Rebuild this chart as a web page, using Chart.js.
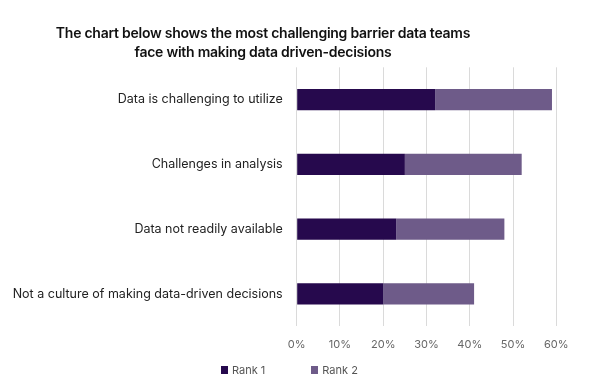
<!DOCTYPE html>
<html>
<head>
<meta charset="utf-8">
<script src="https://cdn.jsdelivr.net/npm/chart.js@4"></script>
<style>
  html, body { margin: 0; padding: 0; background: #ffffff; }
  #wrap { position: relative; width: 598px; height: 387px; }
  #title { position: absolute; top: 23px; left: 13px; width: 500px; text-align: center; font-family: Inter, "Open Sans", sans-serif; font-size: 14px; font-weight: 600; letter-spacing: -0.25px; line-height: 19px; color: #111; white-space: nowrap; }
  #legend { position: absolute; top: 363px; left: 221px; font-family: Inter, "Open Sans", sans-serif; font-size: 11px; color: #555; display: flex; align-items: center; }
  .item { display: flex; align-items: center; }
  .box { width: 7px; height: 8px; margin-right: 4px; }
</style>
</head>
<body>
<div id="wrap">
  <canvas id="c" width="598" height="387"></canvas>
  <div id="title"></div>
  <div id="legend"></div>
</div>
<script>
const titleLines = ["The chart below shows the most challenging barrier data teams", "face with making data driven-decisions"];
const categories = [
  "Data is challenging to utilize",
  "Challenges in analysis",
  "Data not readily available",
  "Not a culture of making data-driven decisions"
];
const rank1 = [32, 25, 23, 20];
const rank2 = [27, 27, 25, 21];
const seriesNames = ["Rank 1", "Rank 2"];
const seriesColors = ["#26094d", "#6e5b89"];
const xTicks = [0, 10, 20, 30, 40, 50, 60];

const FONT = 'Inter, "Open Sans", sans-serif';

const titleEl = document.getElementById('title');
titleLines.forEach((l) => {
  const d = document.createElement('div');
  d.textContent = l;
  titleEl.appendChild(d);
});

const legend = document.getElementById('legend');
seriesNames.forEach((n, i) => {
  const it = document.createElement('div');
  it.className = 'item';
  if (i > 0) it.style.marginLeft = '46px';
  const b = document.createElement('span');
  b.className = 'box';
  b.style.background = seriesColors[i];
  const t = document.createElement('span');
  t.textContent = n;
  it.appendChild(b); it.appendChild(t);
  legend.appendChild(it);
});

new Chart(document.getElementById('c'), {
  type: 'bar',
  data: {
    labels: categories,
    datasets: [
      { label: seriesNames[0], data: rank1, backgroundColor: seriesColors[0] },
      { label: seriesNames[1], data: rank2, backgroundColor: seriesColors[1] }
    ]
  },
  options: {
    indexAxis: 'y',
    responsive: false,
    animation: false,
    layout: { padding: { left: 13, right: 41.7, top: 67.3, bottom: 30.7 } },
    datasets: { bar: { categoryPercentage: 1, barPercentage: 0.33 } },
    plugins: {
      legend: { display: false },
      tooltip: { enabled: false },
      title: { display: false }
    },
    scales: {
      x: {
        stacked: true,
        min: 0, max: 60,
        afterBuildTicks: (scale) => { scale.ticks = xTicks.map(v => ({ value: v })); },
        afterFit: (scale) => { scale.height = 30; },
        grid: { color: '#dadada', drawTicks: false },
        border: { display: false },
        ticks: { padding: 12, color: '#666666', font: { family: FONT, size: 11 }, callback: (v) => v + '%' }
      },
      y: {
        stacked: true,
        afterFit: (scale) => { scale.width = 283.7; },
        grid: { display: false, drawTicks: false },
        border: { display: false },
        ticks: { padding: 14, color: '#222222', font: { family: FONT, size: 12.5 } }
      }
    }
  }
});
</script>
</body>
</html>
